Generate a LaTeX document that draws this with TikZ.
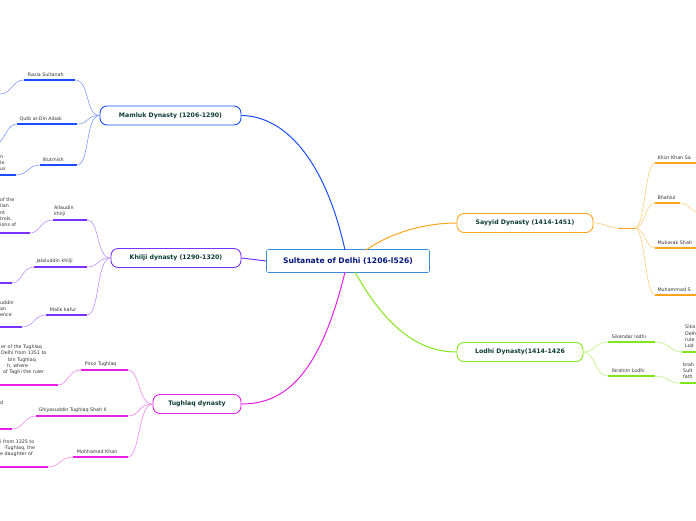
\documentclass[tikz,border=0pt]{standalone}
\usepackage{fontspec}
\setmainfont{DejaVu Sans}
\definecolor{mam}{RGB}{26,77,255}\definecolor{maml}{RGB}{125,155,255}
\definecolor{khi}{RGB}{122,50,255}\definecolor{khil}{RGB}{185,145,255}
\definecolor{tug}{RGB}{230,30,230}\definecolor{tugl}{RGB}{242,135,242}
\definecolor{say}{RGB}{255,163,26}\definecolor{sayl}{RGB}{255,205,130}
\definecolor{lod}{RGB}{128,230,25}\definecolor{lodl}{RGB}{185,242,125}
\definecolor{cen}{RGB}{60,140,220}
\definecolor{ttl}{RGB}{12,60,50}
\tikzset{
 mainbox/.style={draw=#1,line width=0.9pt,rounded corners=7pt,fill=white,text=ttl,font=\fontsize{6.2}{7}\selectfont\bfseries,minimum height=19pt,inner xsep=8pt},
 ul/.style={draw=#1,line width=1.4pt},
 con/.style={draw=#1,line width=0.6pt},
 lt/.style={font=\fontsize{4.8}{6.3}\selectfont,text=black!80,inner sep=1pt,align=left},
}
\newcommand\leaf[6]{%
 \coordinate (#1L) at (#3,#5); \coordinate (#1R) at (#4,#5);
 \draw[ul=#2] (#1L) -- (#1R);
 \node[lt,anchor=south west] (#1T) at ([yshift=2pt]#1L) {#6};}
\newcommand\ctxt[5]{%
 \node[lt,anchor=south west] (#1) at (#3,#4) {#5};}
\begin{document}
\begin{tikzpicture}[x=1pt,y=-1pt]
\useasboundingbox (0,0) rectangle (696,520);
\node[draw=cen,line width=0.6pt,rounded corners=2pt,fill=white,text=ttl!50!blue!80!black,font=\fontsize{7.6}{9}\selectfont\bfseries,minimum width=163pt,minimum height=23pt] (C) at (348,261) {Sultanate of Delhi (1206-l526)};
\node[mainbox=mam,minimum width=141pt] (M) at (170.5,115.5) {Mamluk Dynasty (1206-1290)};
\node[mainbox=khi,minimum width=130pt] (K) at (176,258) {Khilji dynasty (1290-1320)};
\node[mainbox=tug,minimum width=88pt] (T) at (197,404) {Tughlaq dynasty};
\node[mainbox=say,minimum width=136pt] (S) at (525,223) {Sayyid Dynasty (1414-1451)};
\node[mainbox=lod,minimum width=126pt] (L) at (520,352) {Lodhi Dynasty(1414-1426};
\draw[mam,line width=1pt] (345,250) .. controls (325,160) and (285,116) .. (M.east);
\draw[khi,line width=1pt] (C.west) -- (K.east);
\draw[tug,line width=1pt] (345,272) .. controls (320,375) and (285,404) .. (T.east);
\draw[say,line width=1pt] (366,250) .. controls (395,230) and (430,223) .. (S.west);
\draw[lod,line width=1pt] (355,272) .. controls (390,335) and (425,352) .. (L.west);
% Mamluk leaves
\leaf{rz}{mam}{24}{75}{80}{\;\;Razia Sultanah}
\leaf{qa}{mam}{17}{77}{124}{\;Qutb al-Din Aibak}
\leaf{il}{mam}{40}{77}{165}{\;Iltutmish}
\foreach \n in {rz,qa,il}{\draw[con=maml] (M.west) .. controls (85,115.5) and (90,0 |- \n R) .. (\n R);}
\coordinate (rz2) at (0,94); \draw[con=maml] (rzL) .. controls (12,80) and (12,94) .. (rz2);
\coordinate (qa2) at (0,142); \draw[con=maml] (qaL) .. controls (8,124) and (6,136) .. (qa2);
\coordinate (il2L) at (0,175); \coordinate (il2R) at (16,175);
\draw[ul=mam] (il2L) -- (il2R); \draw[con=maml] (ilL) .. controls (28,165) and (28,175) .. (il2R);
\ctxt{il2T}{mam}{-1}{172}{n\\le\\us}
% Khilji leaves
\leaf{al}{khi}{53}{87}{220}{Allaudin\\khilji}
\leaf{ja}{khi}{34}{87}{267}{\;Jalaluddin khilji}
\leaf{mk}{khi}{46}{87}{315}{\;\;Malik kafur}
\foreach \n in {al,ja,mk}{\draw[con=khil] (K.west) .. controls (96,258) and (100,0 |- \n R) .. (\n R);}
\coordinate (al2L) at (0,233); \coordinate (al2R) at (30,233); \draw[ul=khi] (al2L) -- (al2R);
\draw[con=khil] (alL) .. controls (40,220) and (40,233) .. (al2R);
\ctxt{al2T}{khi}{-1}{228}{of the\\lian\\nt\\trols,\\ions of}
\coordinate (ja2L) at (0,283); \coordinate (ja2R) at (12,283); \draw[ul=khi] (ja2L) -- (ja2R);
\draw[con=khil] (jaL) .. controls (22,267) and (22,283) .. (ja2R);
\coordinate (mk2L) at (0,327); \coordinate (mk2R) at (22,327); \draw[ul=khi] (mk2L) -- (mk2R);
\draw[con=khil] (mkL) .. controls (34,315) and (34,327) .. (mk2R);
\ctxt{mk2T}{khi}{-1}{318}{uddin\\an\\ence}
% Tughlaq leaves
\leaf{pt}{tug}{81}{128}{370}{\;\;Piroz Tughlaq}
\leaf{gt}{tug}{36}{128}{416}{\;Ghiyasuddin Tughlaq Shah II}
\leaf{mh}{tug}{73}{128}{457}{\;\;Mohhamed Khan}
\foreach \n in {pt,gt,mh}{\draw[con=tugl] (T.west) .. controls (138,404) and (140,0 |- \n R) .. (\n R);}
\coordinate (pt2L) at (0,385); \coordinate (pt2R) at (58,385); \draw[ul=tug] (pt2L) -- (pt2R);
\draw[con=tugl] (ptL) .. controls (68,370) and (68,385) .. (pt2R);
\ctxt{pt2T}{tug}{-1}{376}{\hspace*{1pt}er of the Tughlaq\\\hspace*{1pt}Delhi from 1351 to\\\hspace*{8pt}bin Tughlaq\\\hspace*{7pt}h, where\\\hspace*{3pt}of Taghi the ruler}
\coordinate (gt2L) at (0,429); \coordinate (gt2R) at (12,429); \draw[ul=tug] (gt2L) -- (gt2R);
\draw[con=tugl] (gtL) .. controls (24,416) and (24,429) .. (gt2R);
\ctxt{gt2T}{tug}{-1}{406}{d}
\coordinate (mh2L) at (0,467); \coordinate (mh2R) at (48,467); \draw[ul=tug] (mh2L) -- (mh2R);
\draw[con=tugl] (mhL) .. controls (60,457) and (60,467) .. (mh2R);
\ctxt{mh2T}{tug}{-1}{458}{i from 1325 to\\\hspace*{4pt}-Tughlaq, the\\e daughter of}
% Sayyid leaves
\coordinate (hubL) at (618,228); \coordinate (hubR) at (635,228);
\draw[con=sayl] (S.east) .. controls (605,223) and (608,228) .. (hubL);
\draw[ul=say,line width=1pt] (hubL) -- (hubR);
\leaf{kk}{say}{655}{700}{163}{\;Khizr Khan Sa}
\leaf{bh}{say}{655}{680}{203}{\;Bhahlul}
\leaf{ms}{say}{655}{700}{248}{\;Mubarak Shah}
\leaf{mu}{say}{655}{700}{295}{\;Muhammad S}
\foreach \n in {kk,bh,ms,mu}{\draw[con=sayl] (hubR) .. controls (645,228) and (645,0 |- \n L) .. (\n L);}
\coordinate (bh2) at (696,212); \draw[con=sayl] (bhR) .. controls (688,203) and (690,210) .. (bh2);
% Lodhi leaves
\leaf{sl}{lod}{608}{655}{342}{\;\;Sikandar lodhi}
\leaf{il3}{lod}{608}{655}{376}{\;\;Ibrahim Lodhi}
\foreach \n in {sl,il3}{\draw[con=lodl] (L.east) .. controls (595,352) and (595,0 |- \n L) .. (\n L);}
\coordinate (sl2L) at (682,352); \coordinate (sl2R) at (700,352); \draw[ul=lod] (sl2L) -- (sl2R);
\draw[con=lodl] (slR) .. controls (670,342) and (670,352) .. (sl2L);
\ctxt{sl2T}{lod}{684}{349}{Sika\\Delh\\rule\\Lod}
\coordinate (ib2L) at (680,383); \coordinate (ib2R) at (700,383); \draw[ul=lod] (ib2L) -- (ib2R);
\draw[con=lodl] (il3R) .. controls (668,376) and (668,383) .. (ib2L);
\ctxt{ib2T}{lod}{682}{380}{brah\\Sult\\fath}
\end{tikzpicture}
\end{document}
